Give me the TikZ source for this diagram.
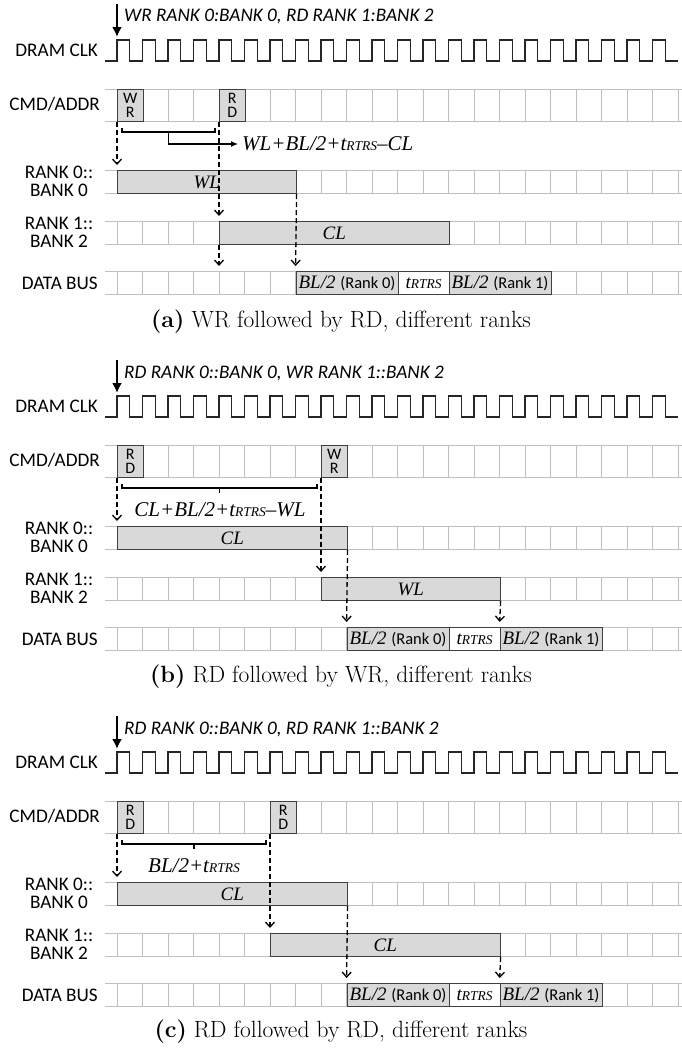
\documentclass[tikz,border=0pt]{standalone}
\usepackage{fontspec}
\usetikzlibrary{arrows.meta,positioning}

\newfontfamily\sansc{Carlito}
\newfontfamily\tms{Liberation Serif}
\definecolor{slotgray}{RGB}{217,217,217}
\definecolor{gridgray}{RGB}{191,191,191}
\definecolor{edgegray}{RGB}{64,64,64}
\newcommand{\trtrs}{t{\fontsize{13.5}{13.5}\selectfont RTRS}}
\newcommand{\rkfont}{\upshape\sansc\fontsize{16.5}{16.5}\selectfont}

\begin{document}
\begin{tikzpicture}[x=1pt,y=-1pt,
    gridline/.style={gridgray,line width=1pt},
    clk/.style={black!85,line width=1.2pt},
    lbl/.style={font=\sansc\fontsize{19.2}{18.5}\selectfont,inner sep=0pt},
    head/.style={font=\sansc\itshape\fontsize{19.2}{15}\selectfont,inner sep=0pt,anchor=west},
    cmdbox/.style={draw=edgegray,fill=slotgray,line width=1.1pt,minimum width=25.5pt,
        minimum height=32pt,inner sep=0pt,align=center,anchor=north west,
        font=\sansc\fontsize{16}{14.5}\selectfont},
    slot/.style={draw=edgegray,fill=slotgray,line width=1.1pt,minimum height=23pt,
        inner sep=0pt,anchor=north west,font=\tms\itshape\fontsize{19}{19}\selectfont},
    gap/.style={slot,fill=white},
    formula/.style={font=\tms\itshape\fontsize{21}{21}\selectfont,inner sep=0pt},
    dep/.style={dash pattern=on 5pt off 3pt,line width=1.3pt,shorten >=5pt,
        -{Straight Barb[length=5pt,width=9pt]}},
    cue/.style={line width=2pt,-{Latex[length=10pt,width=10pt]}},
    brace/.style={line width=1.2pt},
    caption/.style={font=\fontsize{23.5}{28}\selectfont,inner sep=0pt}]

    \useasboundingbox (0,0) rectangle (682,1055);

    % ============================================
    % COMMON PART OF THE THREE PANELS
    % ============================================

    \foreach \p in {0,356,712} {
      \begin{scope}[shift={(0,\p)}]
        % Grid of the four rows
        \foreach \t/\b in {89/121,170/193,221/244,271/294} {
          \draw[gridline] (105,\t) -- (682,\t) (105,\b) -- (682,\b);
          \foreach \k in {0,...,22}
            \draw[gridline] ({117+\k*25.5},\t) -- ({117+\k*25.5},\b);
        }
        % Clock
        \draw[clk] (105,61) -- (117,61)
          \foreach \k in {0,...,21} { -- ++(0,-21) -- ++(12.75,0) -- ++(0,21) -- ++(12.75,0) };
        % Row labels
        \node[lbl,anchor=east] (clk\p) at (98,50) {DRAM CLK};
        \node[lbl,anchor=east] (cmd\p) at (100,104) {CMD/ADDR};
        \node[lbl,align=center] (rank0\p) at (59,181.5) {RANK 0::\\BANK 0};
        \node[lbl,align=center] (rank1\p) at (59,232.5) {RANK 1::\\BANK 2};
        \node[lbl,anchor=east] (bus\p) at (98,283) {DATA BUS};
      \end{scope}
    }

    % ============================================
    % (a) WR FOLLOWED BY RD
    % ============================================

    \coordinate (acue0) at (117,4);
    \coordinate (acue1) at (117,37);
    \draw[cue] (acue0) -- (acue1);
    \node[head] (ahead) at (124,17) {WR RANK 0:BANK 0, RD RANK 1:BANK 2};

    \node[cmdbox] (awr) at (117,89) {W\\R};
    \node[cmdbox] (ard) at (219,89) {R\\D};

    \node[slot,minimum width=178.5pt] (awl) at (117,170) {WL};
    \node[slot,minimum width=229.5pt] (acl) at (219,221) {CL};

    \node[slot,minimum width=102pt] (ab0) at (295.5,271) {BL/2 {\rkfont (Rank 0)}};
    \node[gap,minimum width=51pt] (agap) at (397.5,271) {\trtrs};
    \node[slot,minimum width=102pt] (ab1) at (448.5,271) {BL/2 {\rkfont (Rank 1)}};

    % Bracket and delay
    \coordinate (abl) at (122,132);
    \coordinate (abr) at (215,132);
    \coordinate (abm) at (168.5,132);
    \draw[brace] (abl) ++(0,-4) -- (abl) -- (abr) -- ++(0,-4);
    \node[formula,anchor=west] (adelay) at (242,144) {WL+BL/2+\trtrs–CL};
    \draw[brace,-{Latex[length=7pt,width=6pt]}] (abm) |- ([xshift=-4pt]adelay.west);

    % Dependencies
    \draw[dep] (awr.south west) -- (awl.north west);
    \draw[dep] (ard.south west) -- (acl.north west);
    \draw[dep] (acl.south west) -- (acl.south west |- ab0.north);
    \draw[dep] (awl.south east) -- (ab0.north west);

    \node[caption] (acap) at (341,322) {\textbf{(a)} WR followed by RD, different ranks};

    % ============================================
    % (b) RD FOLLOWED BY WR
    % ============================================

    \begin{scope}[shift={(0,356)}]
      \coordinate (bcue0) at (117,4);
      \coordinate (bcue1) at (117,37);
      \draw[cue] (bcue0) -- (bcue1);
      \node[head] (bhead) at (124,17) {RD RANK 0::BANK 0, WR RANK 1::BANK 2};

      \node[cmdbox] (brd) at (117,89) {R\\D};
      \node[cmdbox] (bwr) at (321,89) {W\\R};

      \node[slot,minimum width=229.5pt] (bcl) at (117,170) {CL};
      \node[slot,minimum width=178.5pt] (bwl) at (321,221) {WL};

      \node[slot,minimum width=102pt] (bb0) at (346.5,271) {BL/2 {\rkfont (Rank 0)}};
      \node[gap,minimum width=51pt] (bgap) at (448.5,271) {\trtrs};
      \node[slot,minimum width=102pt] (bb1) at (499.5,271) {BL/2 {\rkfont (Rank 1)}};

      % Bracket and delay
      \coordinate (bbl) at (122,132);
      \coordinate (bbr) at (317,132);
      \coordinate (bbm) at (219.5,132);
      \draw[brace] (bbl) ++(0,-4) -- (bbl) -- (bbr) -- ++(0,-4);
      \draw[brace] (bbm) -- ++(0,5);
      \node[formula] (bdelay) at (220,154) {CL+BL/2+\trtrs–WL};

      % Dependencies
      \draw[dep] (brd.south west) -- (bcl.north west);
      \draw[dep] (bwr.south west) -- (bwl.north west);
      \draw[dep] (bcl.south east) -- (bb0.north west);
      \draw[dep] (bwl.south east) -- (bb1.north west);

      \node[caption] (bcap) at (341,321) {\textbf{(b)} RD followed by WR, different ranks};
    \end{scope}

    % ============================================
    % (c) RD FOLLOWED BY RD
    % ============================================

    \begin{scope}[shift={(0,712)}]
      \coordinate (ccue0) at (117,4);
      \coordinate (ccue1) at (117,37);
      \draw[cue] (ccue0) -- (ccue1);
      \node[head] (chead) at (124,17) {RD RANK 0::BANK 0, RD RANK 1::BANK 2};

      \node[cmdbox] (crd0) at (117,89) {R\\D};
      \node[cmdbox] (crd1) at (270,89) {R\\D};

      \node[slot,minimum width=229.5pt] (ccl0) at (117,170) {CL};
      \node[slot,minimum width=229.5pt] (ccl1) at (270,221) {CL};

      \node[slot,minimum width=102pt] (cb0) at (346.5,271) {BL/2 {\rkfont (Rank 0)}};
      \node[gap,minimum width=51pt] (cgap) at (448.5,271) {\trtrs};
      \node[slot,minimum width=102pt] (cb1) at (499.5,271) {BL/2 {\rkfont (Rank 1)}};

      % Bracket and delay
      \coordinate (cbl) at (122,132);
      \coordinate (cbr) at (266,132);
      \coordinate (cbm) at (194,132);
      \draw[brace] (cbl) ++(0,-4) -- (cbl) -- (cbr) -- ++(0,-4);
      \draw[brace] (cbm) -- ++(0,5);
      \node[formula] (cdelay) at (194,154) {BL/2+\trtrs};

      % Dependencies
      \draw[dep] (crd0.south west) -- (ccl0.north west);
      \draw[dep] (crd1.south west) -- (ccl1.north west);
      \draw[dep] (ccl0.south east) -- (cb0.north west);
      \draw[dep] (ccl1.south east) -- (cb1.north west);

      \node[caption] (ccap) at (341,320) {\textbf{(c)} RD followed by RD, different ranks};
    \end{scope}

\end{tikzpicture}
\end{document}
